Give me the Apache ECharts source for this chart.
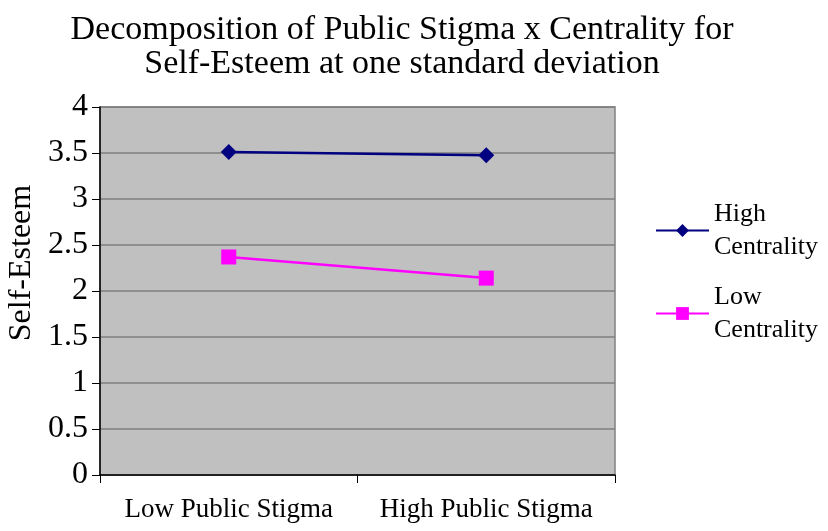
<!DOCTYPE html>
<html>
<head>
<meta charset="utf-8">
<script src="https://cdn.jsdelivr.net/npm/echarts@6/dist/echarts.min.js"></script>
<style>
  html, body { margin: 0; padding: 0; background: #fff; }
  #main { width: 828px; height: 531px; }
</style>
</head>
<body>
<div id="main"></div>
<script>
// 数据
var categories = ['Low Public Stigma', 'High Public Stigma'];
var highCentrality = [3.51, 3.475];
var lowCentrality = [2.37, 2.14];
var seriesNames = ['High\nCentrality', 'Low\nCentrality'];

var myChart = echarts.init(document.getElementById('main'));
var serif = '"Liberation Serif", "Times New Roman", serif';

var option = {
    animation: false,
    title: {
        text: 'Decomposition of Public Stigma x Centrality for\nSelf-Esteem at one standard deviation',
        left: 397,
        textAlign: 'center',
        top: 8,
        textStyle: {
            fontFamily: serif,
            fontWeight: 'normal',
            fontSize: 34,
            lineHeight: 34,
            color: '#000'
        }
    },
    legend: {
        orient: 'vertical',
        left: 655,
        top: 181,
        padding: 0,
        itemWidth: 53,
        itemHeight: 16,
        itemGap: -16,
        data: seriesNames,
        textStyle: {
            fontFamily: serif,
            fontSize: 26,
            lineHeight: 33,
            color: '#000',
            padding: [33, 0, 0, 0]
        }
    },
    grid: {
        left: 100,
        right: 213,
        top: 107,
        bottom: 56,
        outerBoundsMode: 'none',
        show: true,
        backgroundColor: '#c0c0c0',
        borderColor: '#808080',
        borderWidth: 1.5
    },
    xAxis: {
        type: 'category',
        data: categories,
        boundaryGap: true,
        axisLine: { lineStyle: { color: '#000', width: 1.5 } },
        axisTick: { show: true, length: 8, lineStyle: { color: '#000' } },
        axisLabel: {
            interval: 0,
            hideOverlap: false,
            margin: 21,
            fontFamily: serif,
            fontSize: 27,
            color: '#000'
        }
    },
    yAxis: {
        type: 'value',
        min: 0,
        max: 4,
        interval: 0.5,
        name: 'Self-Esteem',
        nameLocation: 'middle',
        nameRotate: 90,
        nameGap: 53,
        nameTextStyle: {
            fontFamily: serif,
            fontSize: 32,
            color: '#000',
            padding: [0, 0, 0, 56]
        },
        axisLine: { show: true, lineStyle: { color: '#000', width: 1.5 } },
        axisTick: { show: true, length: 8, lineStyle: { color: '#000' } },
        axisLabel: {
            margin: 12,
            fontFamily: serif,
            fontSize: 32,
            color: '#000'
        },
        splitLine: { lineStyle: { color: '#7f7f7f', width: 1.5 } }
    },
    series: [
        {
            name: seriesNames[0],
            type: 'line',
            data: highCentrality,
            symbol: 'diamond',
            symbolSize: 16,
            itemStyle: { color: '#000080' },
            lineStyle: { color: '#000080', width: 2.5 }
        },
        {
            name: seriesNames[1],
            type: 'line',
            data: lowCentrality,
            symbol: 'rect',
            symbolSize: 15,
            itemStyle: { color: '#ff00ff' },
            lineStyle: { color: '#ff00ff', width: 2.5 }
        }
    ]
};

myChart.setOption(option);
</script>
</body>
</html>
